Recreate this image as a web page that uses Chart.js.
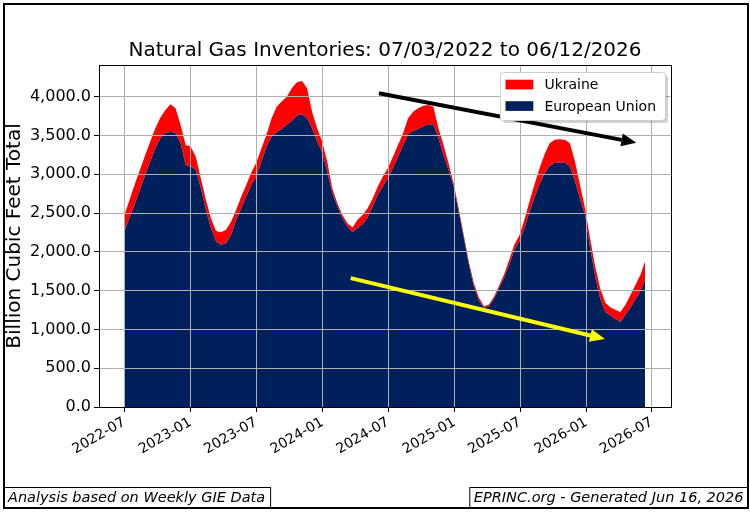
<!DOCTYPE html>
<html><head><meta charset="utf-8">
<script src="https://cdn.jsdelivr.net/npm/chart.js@4.4.1/dist/chart.umd.min.js"></script>
<style>html,body{margin:0;padding:0;background:#fff;}#wrap{width:750px;height:512px;}</style>
</head><body><div id="wrap"><canvas id="c" width="750" height="512"></canvas></div>
<script>
const titleText = 'Natural Gas Inventories: 07/03/2022 to 06/12/2026';
const yAxisTitle = 'Billion Cubic Feet Total';
const footerLeft = 'Analysis based on Weekly GIE Data';
const footerRight = 'EPRINC.org - Generated Jun 16, 2026';
const seriesNames = ['European Union', 'Ukraine'];

const dates = [
'2022-07-03','2022-07-17','2022-07-31','2022-08-14','2022-08-28','2022-09-11','2022-09-25','2022-10-09','2022-10-23','2022-11-06',
'2022-11-20','2022-12-04','2022-12-18','2023-01-01','2023-01-15','2023-01-29','2023-02-12','2023-02-26','2023-03-12','2023-03-26',
'2023-04-09','2023-04-23','2023-05-07','2023-05-21','2023-06-04','2023-06-18','2023-07-02','2023-07-16','2023-07-30','2023-08-13',
'2023-08-27','2023-09-10','2023-09-24','2023-10-08','2023-10-22','2023-11-05','2023-11-19','2023-12-03','2023-12-17','2023-12-31',
'2024-01-14','2024-01-28','2024-02-11','2024-02-25','2024-03-10','2024-03-24','2024-04-07','2024-04-21','2024-05-05','2024-05-19',
'2024-06-02','2024-06-16','2024-06-30','2024-07-14','2024-07-28','2024-08-11','2024-08-25','2024-09-08','2024-09-22','2024-10-06',
'2024-10-20','2024-11-03','2024-11-17','2024-12-01','2024-12-15','2024-12-29','2025-01-12','2025-01-26','2025-02-09','2025-02-23',
'2025-03-09','2025-03-23','2025-04-06','2025-04-20','2025-05-04','2025-05-18','2025-06-01','2025-06-15','2025-06-29','2025-07-13',
'2025-07-27','2025-08-10','2025-08-24','2025-09-07','2025-09-21','2025-10-05','2025-10-19','2025-11-02','2025-11-16','2025-11-30',
'2025-12-14','2025-12-28','2026-01-11','2026-01-25','2026-02-08','2026-02-22','2026-03-08','2026-03-22','2026-04-05','2026-04-19',
'2026-05-03','2026-05-17','2026-05-31','2026-06-12'];

const euValues = [
2283,2455,2627,2807,2991,3163,3335,3464,3528,3549,
3528,3399,3120,3099,3056,2820,2541,2305,2133,2090,
2112,2219,2412,2562,2712,2863,2970,3163,3356,3485,
3541,3584,3635,3687,3755,3773,3721,3592,3421,3283,
3034,2755,2584,2433,2326,2253,2305,2356,2442,2584,
2734,2841,2949,3077,3227,3369,3515,3558,3584,3614,
3644,3635,3464,3249,3056,2841,2519,2185,1841,1554,
1369,1280,1300,1395,1532,1669,1833,2020,2133,2305,
2511,2700,2871,3009,3107,3146,3150,3150,3099,2914,
2682,2476,2056,1682,1395,1223,1180,1133,1094,1189,
1283,1390,1498,1639];

const ukraineValues = [
215,236,257,257,258,258,257,266,300,352,
322,236,258,257,171,128,129,128,137,163,
171,171,129,150,151,163,180,172,159,236,
330,352,365,420,430,429,386,215,171,138,
129,65,43,43,43,60,107,120,120,107,
107,129,128,150,151,159,206,249,266,270,
249,236,128,129,86,43,43,34,34,43,
43,20,20,30,34,43,64,70,77,107,
137,171,206,249,292,300,301,296,300,249,
181,86,120,129,137,120,107,116,129,129,
163,185,214,236];

const xTickLabels = ['2022-07','2023-01','2023-07','2024-01','2024-07','2025-01','2025-07','2026-01','2026-07'];
const yTickValues = [0,500,1000,1500,2000,2500,3000,3500,4000];
const xRange = ['2022-04-22','2026-08-23'];
const yRange = [0, 4408];
const blackArrow = {from: ['2024-06-05', 4043], to: ['2026-05-19', 3407]};
const yellowArrow = {from: ['2024-03-19', 1661], to: ['2026-02-21', 876]};

const FONT = '"DejaVu Sans", "Liberation Sans", sans-serif';
const toMs = s => Date.parse((s.length === 7 ? s + '-01' : s) + 'T00:00:00Z');
const fmtY = v => v.toLocaleString('en-US', {minimumFractionDigits: 1, maximumFractionDigits: 1});

function drawArrow(ctx, x1, y1, x2, y2, color, shaft, headLen, headW) {
  const a = Math.atan2(y2 - y1, x2 - x1);
  const bx = x2 - headLen * Math.cos(a), by = y2 - headLen * Math.sin(a);
  ctx.save();
  ctx.strokeStyle = color; ctx.lineWidth = shaft; ctx.lineCap = 'butt';
  ctx.beginPath(); ctx.moveTo(x1, y1); ctx.lineTo(bx, by); ctx.stroke();
  ctx.fillStyle = color; ctx.beginPath(); ctx.moveTo(x2, y2);
  ctx.lineTo(bx + headW / 2 * Math.sin(a), by - headW / 2 * Math.cos(a));
  ctx.lineTo(bx - headW / 2 * Math.sin(a), by + headW / 2 * Math.cos(a));
  ctx.closePath(); ctx.fill();
  ctx.restore();
}

const decorPlugin = {
  id: 'decor',
  afterDraw(chart) {
    const ctx = chart.ctx, ca = chart.chartArea, xs = chart.scales.x, ys = chart.scales.y;
    ctx.save();
    // arrows
    [[blackArrow, '#000000'], [yellowArrow, '#ffff00']].forEach(([ar, col]) => {
      drawArrow(ctx, xs.getPixelForValue(toMs(ar.from[0])), ys.getPixelForValue(ar.from[1]),
        xs.getPixelForValue(toMs(ar.to[0])), ys.getPixelForValue(ar.to[1]), col, 4, 15, 13);
    });
    // axes frame
    ctx.strokeStyle = '#000'; ctx.lineWidth = 1;
    ctx.strokeRect(Math.round(ca.left) + 0.5, Math.round(ca.top) + 0.5, Math.round(ca.right - ca.left), Math.round(ca.bottom - ca.top));
    // legend
    const items = chart.data.datasets.map(d => ({label: d.label, color: d.backgroundColor})).reverse();
    ctx.font = '14px ' + FONT;
    const tw = Math.max(...items.map(i => ctx.measureText(i.label).width));
    const w = 5.6 + 27.8 + 11.1 + tw + 9, h = 48;
    const lx = ca.right - 6 - w, ly = ca.top + 7;
    const rr = (x, y, ww, hh, r) => { ctx.beginPath(); ctx.moveTo(x + r, y); ctx.lineTo(x + ww - r, y); ctx.arcTo(x + ww, y, x + ww, y + r, r); ctx.lineTo(x + ww, y + hh - r); ctx.arcTo(x + ww, y + hh, x + ww - r, y + hh, r); ctx.lineTo(x + r, y + hh); ctx.arcTo(x, y + hh, x, y + hh - r, r); ctx.lineTo(x, y + r); ctx.arcTo(x, y, x + r, y, r); ctx.closePath(); };
    ctx.fillStyle = 'rgba(0,0,0,0.18)'; rr(lx + 3, ly + 3, w, h, 3); ctx.fill();
    ctx.fillStyle = '#fff'; rr(lx, ly, w, h, 3); ctx.fill();
    ctx.strokeStyle = '#cccccc'; ctx.lineWidth = 1; rr(lx + 0.5, ly + 0.5, w, h, 3); ctx.stroke();
    items.forEach((it, i) => {
      const cy = ly + 12.5 + i * 21.5;
      ctx.fillStyle = it.color; ctx.fillRect(lx + 5.6, cy - 4.8, 27.8, 9.7);
      ctx.fillStyle = '#000'; ctx.textAlign = 'left'; ctx.textBaseline = 'middle';
      ctx.fillText(it.label, lx + 5.6 + 27.8 + 11.1, cy + 1);
    });
    // title
    ctx.fillStyle = '#000'; ctx.textAlign = 'center'; ctx.textBaseline = 'alphabetic';
    ctx.font = '20px ' + FONT;
    ctx.fillText(titleText, (ca.left + ca.right) / 2, ca.top - 9);
    // y axis title
    ctx.save(); ctx.translate(15, (ca.top + ca.bottom) / 2); ctx.rotate(-Math.PI / 2);
    ctx.font = '20px ' + FONT; ctx.textBaseline = 'middle'; ctx.fillText(yAxisTitle, 0, 0); ctx.restore();
    // figure border
    ctx.strokeStyle = '#000'; ctx.lineWidth = 2;
    ctx.strokeRect(4, 4, 744, 504);
    // footers
    ctx.lineWidth = 1;
    ctx.font = 'italic 14.5px ' + FONT; ctx.textBaseline = 'middle'; ctx.textAlign = 'left';
    const lw = ctx.measureText(footerLeft).width;
    ctx.strokeRect(4.5, 487.5, lw + 9, 20);
    ctx.fillText(footerLeft, 8, 498);
    const rw = ctx.measureText(footerRight).width;
    ctx.strokeRect(747.5 - rw - 8, 487.5, rw + 8, 20);
    ctx.fillText(footerRight, 747.5 - rw - 4, 498);
    ctx.restore();
  }
};

new Chart(document.getElementById('c'), {
  type: 'line',
  data: {
    datasets: [
      {label: seriesNames[0], data: dates.map((d, i) => ({x: toMs(d), y: euValues[i]})),
       backgroundColor: '#00205b', borderColor: 'rgba(0,0,0,0)', borderWidth: 0, pointRadius: 0, fill: 'origin', tension: 0},
      {label: seriesNames[1], data: dates.map((d, i) => ({x: toMs(d), y: ukraineValues[i]})),
       backgroundColor: '#ff0000', borderColor: 'rgba(0,0,0,0)', borderWidth: 0, pointRadius: 0, fill: '-1', tension: 0}
    ]
  },
  options: {
    responsive: false, animation: false, events: [],
    layout: {padding: {left: 0, top: 65, right: 79, bottom: 0}},
    plugins: {legend: {display: false}, tooltip: {enabled: false}, title: {display: false}},
    scales: {
      x: {
        type: 'linear', min: toMs(xRange[0]), max: toMs(xRange[1]),
        afterBuildTicks: s => { s.ticks = xTickLabels.map(l => ({value: toMs(l)})); },
        afterFit: s => { s.height = 105; },
        ticks: {autoSkip: false, minRotation: 30, maxRotation: 30, color: '#000', padding: 2,
                font: {family: FONT, size: 14},
                callback: v => { const d = new Date(v); return d.getUTCFullYear() + '-' + String(d.getUTCMonth() + 1).padStart(2, '0'); }},
        grid: {color: '#b0b0b0', lineWidth: 1, tickColor: '#000', tickLength: 5, drawOnChartArea: true, z: 1},
        border: {display: true, color: '#000', width: 1, z: 2}
      },
      y: {
        type: 'linear', stacked: true, min: yRange[0], max: yRange[1],
        afterBuildTicks: s => { s.ticks = yTickValues.map(v => ({value: v})); },
        afterFit: s => { s.width = 99; },
        ticks: {color: '#000', padding: 3, font: {family: FONT, size: 16}, callback: v => fmtY(v)},
        grid: {color: '#b0b0b0', lineWidth: 1, tickColor: '#000', tickLength: 5, z: 1},
        border: {display: true, color: '#000', width: 1, z: 2}
      }
    }
  },
  plugins: [decorPlugin]
});
</script></body></html>
